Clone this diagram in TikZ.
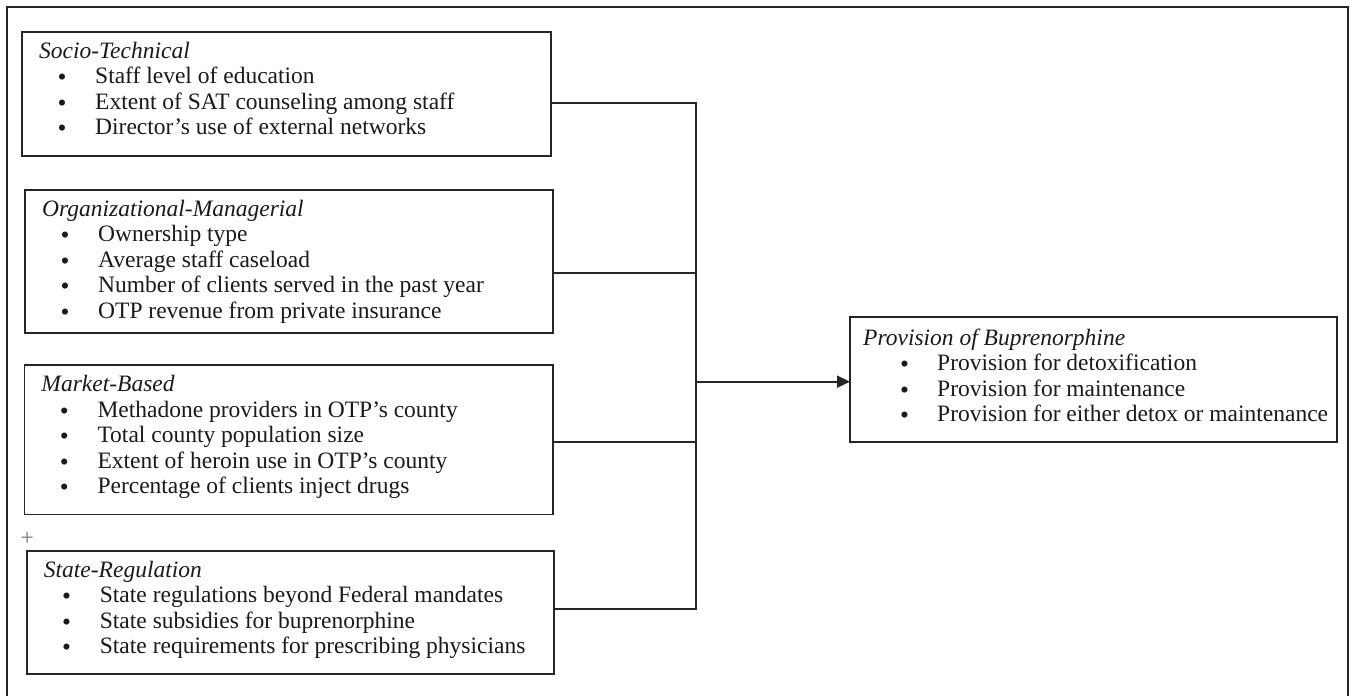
\documentclass[tikz,border=0pt]{standalone}
\usepackage{fontspec}
\setmainfont{Liberation Serif}
\usetikzlibrary{arrows.meta,calc}
\definecolor{lc}{HTML}{262626}
\definecolor{tc}{HTML}{1A1A1A}
\newcommand\fsz{\fontsize{23.5}{25.5}\selectfont}
\begin{document}
\begin{tikzpicture}[x=1pt,y=-1pt,
  ln/.style={draw=lc, line width=1.6pt},
  box/.style={ln, rectangle, inner sep=0pt, outer sep=0pt, anchor=north west},
  ttl/.style={anchor=base west, inner sep=0pt, font=\fsz\itshape, text=tc},
  itm/.style={anchor=base west, inner sep=0pt, font=\fsz, text=tc},
  bul/.style={anchor=base, inner sep=0pt, font=\fontsize{25.5}{25.5}\selectfont, text=tc},
]
\useasboundingbox (0,0) rectangle (1353,696);
% outer frame (bottom edge lies outside the picture)
\draw[ln] (6.7,700) -- (6.7,7) -- (1348,7) -- (1348,700);

% Box 1
\node[box, minimum width=529pt, minimum height=124pt] (b1) at (22,31.7) {};
\node[ttl] (b1t) at ($(b1.north west)+(17,26.5)$) {Socio-Technical};
\foreach \t [count=\i] in {Staff level of education,Extent of SAT counseling among staff,Director’s use of external networks}{
  \node[bul] (b1b\i) at ($(b1.north west)+(40,28.7+25.5*\i)$) {\textbullet};
  \node[itm] (b1i\i) at ($(b1.north west)+(73,26.5+25.5*\i)$) {\t};
}

% Box 2
\node[box, minimum width=527.7pt, minimum height=143.3pt] (b2) at (25,189.7) {};
\node[ttl] (b2t) at ($(b2.north west)+(17,26.5)$) {Organizational-Managerial};
\foreach \t [count=\i] in {Ownership type,Average staff caseload,Number of clients served in the past year,OTP revenue from private insurance}{
  \node[bul] (b2b\i) at ($(b2.north west)+(40,28.7+25.5*\i)$) {\textbullet};
  \node[itm] (b2i\i) at ($(b2.north west)+(73,26.5+25.5*\i)$) {\t};
}

% Box 3
\node[box, minimum width=528.7pt, minimum height=149.3pt] (b3) at (24.3,365) {};
\node[ttl] (b3t) at ($(b3.north west)+(17,26.5)$) {Market-Based};
\foreach \t [count=\i] in {Methadone providers in OTP’s county,Total county population size,Extent of heroin use in OTP’s county,Percentage of clients inject drugs}{
  \node[bul] (b3b\i) at ($(b3.north west)+(40,28.7+25.5*\i)$) {\textbullet};
  \node[itm] (b3i\i) at ($(b3.north west)+(73,26.5+25.5*\i)$) {\t};
}

% plus sign
\node[inner sep=0pt, font=\fsz, text=black!55] (plus) at (27.3,539) {+};

% Box 4
\node[box, minimum width=527.3pt, minimum height=123.3pt] (b4) at (26.7,550.7) {};
\node[ttl] (b4t) at ($(b4.north west)+(17,26.5)$) {State-Regulation};
\foreach \t [count=\i] in {State regulations beyond Federal mandates,State subsidies for buprenorphine,State requirements for prescribing physicians}{
  \node[bul] (b4b\i) at ($(b4.north west)+(40,28.7+25.5*\i)$) {\textbullet};
  \node[itm] (b4i\i) at ($(b4.north west)+(73,26.5+25.5*\i)$) {\t};
}

% Box 5 (outcome)
\node[box, minimum width=487pt, minimum height=125pt] (b5) at (850,317) {};
\node[ttl] (b5t) at ($(b5.north west)+(13,28)$) {Provision of Buprenorphine};
\foreach \t [count=\i] in {Provision for detoxification,Provision for maintenance,Provision for either detox or maintenance}{
  \node[bul] (b5b\i) at ($(b5.north west)+(54.6,30.2+25.5*\i)$) {\textbullet};
  \node[itm] (b5i\i) at ($(b5.north west)+(87,28+25.5*\i)$) {\t};
}

% connectors
\coordinate (j1) at (695.7,103);
\coordinate (j2) at (695.7,273);
\coordinate (j3) at (695.7,442);
\coordinate (j4) at (695.7,609);
\coordinate (ja) at (695.7,381.7);
\draw[ln] (b1.east |- j1) -- (j1) -- (j4) -- (b4.east |- j4);
\draw[ln] (b2.east |- j2) -- (j2);
\draw[ln] (b3.east |- j3) -- (j3);
\draw[ln, -{Triangle[length=13pt,width=12pt]}] (ja) -- (b5.west |- ja);
\end{tikzpicture}
\end{document}
